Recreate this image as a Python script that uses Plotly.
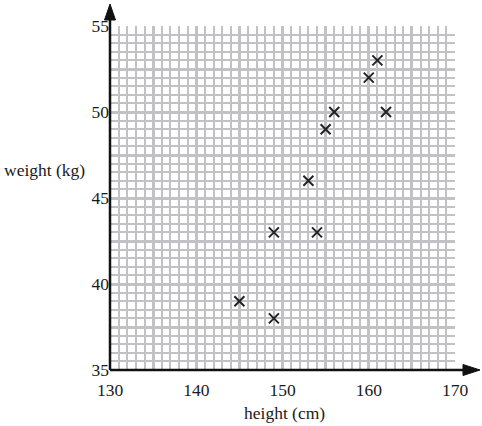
import plotly.graph_objects as go

heights = [145, 149, 149, 153, 154, 155, 156, 160, 161, 162]
weights = [39, 38, 43, 46, 43, 49, 50, 52, 53, 50]

x_major = [130 + 5 * i for i in range(9)]
x_labels = [str(v) if v % 10 == 0 else "" for v in x_major]
y_major = [35 + 2.5 * i for i in range(9)]
y_labels = [str(int(v)) if v % 5 == 0 else "" for v in y_major]

W, H = 482, 426
L, R, T, B = 110, 27, 26, 56
pw, ph = W - L - R, H - T - B

def px(xp):
    return (xp - L) / pw

def py(yp):
    return (H - B - yp) / ph

grid_col = "#c2c2c6"
font = dict(family="Liberation Serif, Times New Roman, serif", size=17.5, color="#1a1a1a")

fig = go.Figure()
fig.add_trace(go.Scatter(
    x=heights, y=weights, mode="markers",
    marker=dict(symbol="x-thin", size=10, line=dict(width=2, color="#222")),
    hoverinfo="skip", showlegend=False, cliponaxis=False,
))

fig.update_xaxes(
    range=[130, 170], tickmode="array", tickvals=x_major, ticktext=x_labels,
    showgrid=True, gridcolor=grid_col, gridwidth=3, zeroline=False, showline=False,
    ticks="", tickfont=font, ticklabelstandoff=7,
    minor=dict(dtick=1, tick0=130, showgrid=True, gridcolor=grid_col, gridwidth=1.8, ticks=""),
)
fig.update_yaxes(
    range=[35, 55], tickmode="array", tickvals=y_major, ticktext=y_labels,
    showgrid=True, gridcolor=grid_col, gridwidth=3, zeroline=False, showline=False,
    ticks="", tickfont=font, ticklabelstandoff=0,
    minor=dict(dtick=0.5, tick0=35, showgrid=True, gridcolor=grid_col, gridwidth=1.8, ticks=""),
)

shapes = [
    dict(type="line", xref="paper", yref="paper", x0=0, y0=0, x1=0, y1=py(18),
         line=dict(color="#111", width=2.5), layer="above"),
    dict(type="path", xref="paper", yref="paper",
         path=f"M {px(110)},{py(4)} L {px(104.5)},{py(20)} L {px(115.5)},{py(20)} Z",
         fillcolor="#111", line=dict(color="#111", width=1), layer="above"),
    dict(type="line", xref="paper", yref="paper", x0=0, y0=0, x1=px(465), y1=0,
         line=dict(color="#111", width=2.5), layer="above"),
    dict(type="path", xref="paper", yref="paper",
         path=f"M {px(480)},{py(370)} L {px(463)},{py(364.5)} L {px(463)},{py(375.5)} Z",
         fillcolor="#111", line=dict(color="#111", width=1), layer="above"),
]

annotations = [
    dict(text="weight (kg)", xref="paper", yref="paper", x=px(2), y=py(170),
         xanchor="left", yanchor="middle", showarrow=False, font=font),
    dict(text="height (cm)", xref="paper", yref="paper", x=px(284), y=py(413),
         xanchor="center", yanchor="middle", showarrow=False, font=font),
]

fig.update_layout(
    width=W, height=H, margin=dict(l=L, r=R, t=T, b=B, pad=0),
    paper_bgcolor="white", plot_bgcolor="white",
    shapes=shapes, annotations=annotations, showlegend=False,
)

fig.write_html("out.html")
